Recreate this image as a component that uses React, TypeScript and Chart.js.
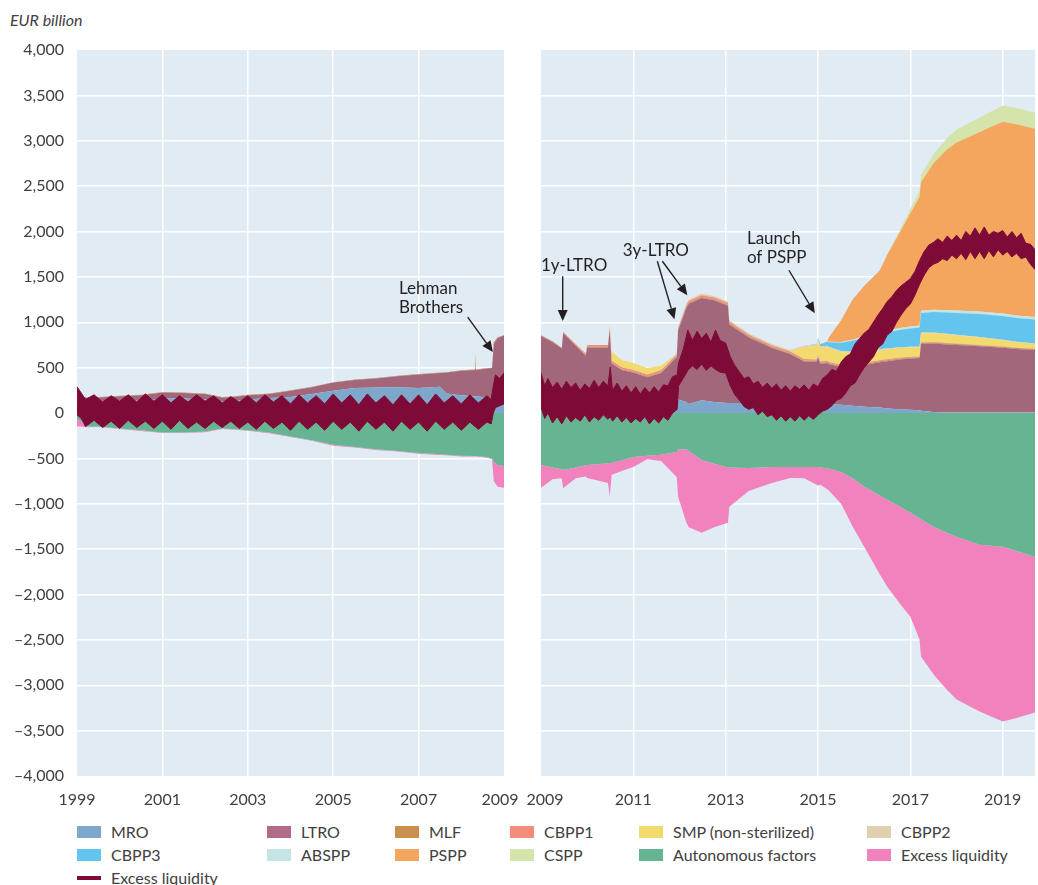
import React, { useEffect, useRef } from 'react';
import { Chart, registerables } from 'chart.js';

Chart.register(...registerables);

const FONT = 'Lato, "Open Sans", "DejaVu Sans", sans-serif';

// ---------------- Left panel (1999-2009) ----------------
const T_L = [1999.0, 1999.1, 1999.25, 1999.5, 2000.0, 2000.5, 2001.0, 2001.5, 2002.0, 2002.4, 2002.7, 2003.0, 2003.5, 2004.0, 2004.5, 2005.0, 2005.5, 2006.0, 2006.5, 2007.0, 2007.5, 2007.65, 2008.0, 2008.3, 2008.32, 2008.34, 2008.6, 2008.72, 2008.76, 2008.85, 2009.0];
const MRO_L = [150, 130, 120, 125, 135, 135, 166, 160, 150, 125, 135, 150, 165, 175, 210, 245, 275, 280, 285, 275, 290, 215, 195, 185, 185, 185, 170, 165, 310, 226, 233];
const LTRO_L = [45, 45, 45, 45, 50, 60, 60, 60, 60, 45, 45, 45, 45, 70, 75, 90, 90, 100, 120, 150, 150, 230, 270, 290, 290, 290, 320, 330, 450, 600, 620];
const MLF_L = [5, 5, 5, 5, 5, 5, 5, 5, 5, 5, 5, 5, 5, 5, 5, 5, 5, 5, 5, 5, 5, 5, 5, 5, 185, 5, 5, 5, 20, 10, 5];
const AUTO_L = [-70, -90, -150, -150, -170, -190, -215, -215, -205, -170, -180, -190, -215, -260, -300, -350, -375, -400, -420, -440, -455, -460, -470, -475, -475, -475, -485, -500, -540, -572, -583];
const EXCESS_L = [-80, -60, -8, -5, -5, -8, -5, -5, -8, -5, -5, -5, -8, -5, -5, -10, -5, -8, -5, -10, -8, -5, -10, -5, -5, -5, -8, -10, -210, -242, -242];

const EL_L_T = [1999.0, 1999.1, 1999.2, 1999.4, 1999.6, 1999.8, 2000.0, 2000.2, 2000.4, 2000.6, 2000.8, 2001.0, 2001.2, 2001.4, 2001.6, 2001.8, 2002.0, 2002.2, 2002.4, 2002.6, 2002.8, 2003.0, 2003.2, 2003.4, 2003.6, 2003.8, 2004.0, 2004.2, 2004.4, 2004.6, 2004.8, 2005.0, 2005.2, 2005.4, 2005.6, 2005.8, 2006.0, 2006.2, 2006.4, 2006.6, 2006.8, 2007.0, 2007.2, 2007.4, 2007.6, 2007.8, 2008.0, 2008.2, 2008.4, 2008.6, 2008.7, 2008.75, 2008.8, 2008.9, 2009.0];
const EL_L_HI = [290, 220, 150, 200, 120, 190, 130, 200, 120, 210, 130, 200, 110, 190, 120, 200, 130, 190, 110, 180, 120, 190, 110, 200, 120, 190, 100, 200, 110, 190, 100, 210, 110, 200, 90, 210, 110, 190, 90, 200, 100, 200, 90, 210, 110, 190, 100, 200, 110, 190, 150, 300, 420, 380, 440];
const EL_L_LO = [-20, -60, -150, -80, -160, -90, -170, -80, -160, -90, -170, -90, -180, -80, -170, -100, -170, -90, -160, -90, -170, -100, -180, -90, -170, -100, -190, -90, -180, -100, -190, -90, -180, -100, -200, -90, -180, -100, -200, -90, -180, -100, -200, -90, -180, -100, -190, -100, -180, -100, -120, 0, 60, 80, 100];

// ---------------- Right panel (2009-2019) ----------------
const T_R = [2009.0, 2009.25, 2009.45, 2009.48, 2009.75, 2009.97, 2010.0, 2010.45, 2010.49, 2010.53, 2010.75, 2011.0, 2011.3, 2011.6, 2011.94, 2011.97, 2012.15, 2012.2, 2012.48, 2012.75, 2013.05, 2013.08, 2013.5, 2014.0, 2014.4, 2014.7, 2014.97, 2015.0, 2015.05, 2015.2, 2015.23, 2015.5, 2015.75, 2016.0, 2016.34, 2016.5, 2016.77, 2017.0, 2017.2, 2017.23, 2017.5, 2017.79, 2018.0, 2018.5, 2019.0, 2019.3, 2019.7];
const MRO_R = [220, 230, 200, 100, 80, 80, 80, 100, 110, 180, 170, 190, 130, 170, 250, 150, 120, 100, 140, 120, 110, 110, 110, 110, 110, 110, 110, 110, 110, 100, 100, 90, 80, 70, 60, 50, 40, 35, 30, 25, 10, 5, 5, 5, 5, 5, 5];
const LTRO_R = [628, 550, 510, 781, 660, 551, 643, 618, 806, 365, 303, 255, 265, 270, 366, 758, 1041, 1105, 1128, 1122, 1072, 865, 724, 606, 539, 458, 455, 508, 432, 450, 440, 416, 430, 460, 500, 520, 550, 565, 575, 735, 755, 750, 745, 730, 715, 700, 690];
const MLF_R = [10, 10, 10, 10, 10, 10, 10, 10, 10, 10, 10, 10, 10, 10, 10, 10, 10, 10, 10, 10, 10, 10, 10, 10, 10, 10, 10, 10, 10, 10, 10, 10, 10, 10, 10, 10, 10, 10, 10, 10, 10, 10, 10, 10, 10, 10, 10];
const CBPP1_R = [0, 0, 0, 3, 10, 15, 15, 20, 20, 20, 20, 20, 20, 20, 20, 20, 20, 20, 20, 20, 20, 20, 19, 18, 18, 17, 15, 15, 15, 15, 15, 14, 13, 12, 12, 11, 10, 9, 8, 8, 7, 6, 5, 4, 3, 3, 2];
const SMP_R = [0, 0, 0, 0, 0, 0, 0, 0, 40, 100, 80, 75, 70, 50, 0, 0, 0, 0, 0, 0, 0, 0, 0, 0, 0, 130, 150, 150, 150, 150, 150, 140, 130, 120, 110, 108, 105, 102, 100, 100, 97, 93, 90, 82, 70, 62, 55];
const CBPP2_R = [0, 0, 0, 0, 0, 0, 0, 0, 0, 0, 0, 0, 0, 0, 10, 12, 15, 15, 18, 18, 18, 18, 17, 16, 16, 15, 15, 15, 15, 15, 15, 14, 13, 12, 12, 11, 10, 10, 9, 9, 8, 8, 7, 6, 5, 5, 4];
const CBPP3_R = [0, 0, 0, 0, 0, 0, 0, 0, 0, 0, 0, 0, 0, 0, 0, 0, 0, 0, 0, 0, 0, 0, 0, 0, 0, 0, 5, 20, 25, 45, 50, 90, 120, 145, 175, 180, 190, 200, 210, 215, 225, 235, 240, 255, 262, 263, 265];
const ABSPP_R = [0, 0, 0, 0, 0, 0, 0, 0, 0, 0, 0, 0, 0, 0, 0, 0, 0, 0, 0, 0, 0, 0, 0, 0, 0, 0, 0, 2, 3, 5, 5, 8, 12, 16, 18, 20, 21, 22, 23, 24, 25, 26, 27, 27, 27, 27, 27];
const PSPP_R = [0, 0, 0, 0, 0, 0, 0, 0, 0, 0, 0, 0, 0, 0, 0, 0, 0, 0, 0, 0, 0, 0, 0, 0, 0, 0, 0, 0, 0, 0, 45, 241, 442, 555, 676, 835, 1052, 1247, 1418, 1418, 1613, 1767, 1851, 1977, 2113, 2107, 2075];
const CSPP_R = [0, 0, 0, 0, 0, 0, 0, 0, 0, 0, 0, 0, 0, 0, 0, 0, 0, 0, 0, 0, 0, 0, 0, 0, 0, 0, 0, 0, 0, 0, 0, 0, 0, 0, 0, 5, 25, 50, 70, 75, 100, 125, 140, 160, 178, 178, 178];
const AUTO_R = [-572, -600, -620, -627, -600, -575, -572, -555, -552, -550, -520, -484, -470, -460, -430, -400, -400, -420, -517, -560, -600, -600, -605, -594, -594, -594, -594, -594, -600, -610, -612, -649, -720, -814, -910, -957, -1030, -1100, -1160, -1170, -1254, -1320, -1364, -1452, -1474, -1520, -1584];
const EXCESS_R = [-253, -130, -100, -203, -120, -125, -143, -215, -372, -130, -120, -110, -40, -70, -274, -524, -810, -840, -803, -700, -610, -434, -255, -176, -121, -126, -198, -206, -190, -230, -238, -351, -530, -660, -870, -957, -1070, -1144, -1337, -1514, -1626, -1730, -1793, -1837, -1925, -1840, -1716];

const EL_R_T = [2009.0, 2009.08, 2009.15, 2009.25, 2009.35, 2009.45, 2009.55, 2009.65, 2009.75, 2009.85, 2009.95, 2010.05, 2010.15, 2010.25, 2010.35, 2010.45, 2010.5, 2010.55, 2010.65, 2010.75, 2010.85, 2010.95, 2011.05, 2011.15, 2011.25, 2011.35, 2011.45, 2011.55, 2011.65, 2011.75, 2011.85, 2011.95, 2011.98, 2012.08, 2012.18, 2012.28, 2012.38, 2012.48, 2012.58, 2012.68, 2012.78, 2012.88, 2013.0, 2013.1, 2013.2, 2013.3, 2013.4, 2013.5, 2013.6, 2013.7, 2013.8, 2013.9, 2014.0, 2014.1, 2014.2, 2014.3, 2014.4, 2014.5, 2014.6, 2014.7, 2014.8, 2014.9, 2015.0, 2015.1, 2015.2, 2015.3, 2015.4, 2015.5, 2015.6, 2015.7, 2015.8, 2015.9, 2016.0, 2016.1, 2016.2, 2016.3, 2016.4, 2016.5, 2016.6, 2016.7, 2016.8, 2016.9, 2017.0, 2017.1, 2017.2, 2017.3, 2017.4, 2017.5, 2017.6, 2017.7, 2017.8, 2017.9, 2018.0, 2018.1, 2018.2, 2018.3, 2018.4, 2018.5, 2018.6, 2018.7, 2018.8, 2018.9, 2019.0, 2019.1, 2019.2, 2019.3, 2019.4, 2019.5, 2019.6, 2019.7];
const EL_R_HI = [440, 300, 380, 280, 340, 260, 350, 280, 330, 250, 320, 270, 360, 280, 350, 300, 506, 250, 330, 240, 300, 220, 290, 210, 280, 220, 290, 230, 310, 300, 400, 420, 550, 700, 913, 800, 900, 820, 880, 780, 913, 800, 770, 620, 520, 450, 380, 400, 320, 350, 280, 330, 270, 320, 250, 300, 240, 300, 260, 310, 250, 320, 290, 380, 420, 480, 460, 560, 620, 650, 760, 820, 880, 920, 1000, 1080, 1150, 1230, 1280, 1350, 1400, 1440, 1480, 1560, 1680, 1780, 1850, 1880, 1920, 1880, 1950, 1900, 1960, 1900, 2000, 1950, 2040, 1960, 2050, 1960, 2000, 1980, 2010, 1940, 2000, 1930, 1980, 1870, 1860, 1800];
const EL_R_LO = [60, -60, 0, -110, -40, -120, -30, -100, -50, -90, -20, -100, -40, -80, -20, -70, -40, -90, -30, -100, -50, -110, -60, -100, -40, -120, -60, -110, -40, -80, 0, 40, 300, 380, 470, 520, 480, 540, 470, 520, 480, 450, 440, 300, 200, 140, 70, 40, 60, -20, 20, -40, -20, -80, -30, -90, -40, -90, -30, -80, -30, -70, -20, 20, 40, 80, 140, 160, 220, 300, 330, 420, 500, 560, 620, 720, 760, 860, 900, 1000, 1080, 1150, 1200, 1300, 1420, 1520, 1600, 1640, 1660, 1700, 1680, 1740, 1700, 1760, 1690, 1780, 1700, 1780, 1700, 1790, 1720, 1800, 1740, 1780, 1720, 1760, 1700, 1720, 1640, 1580];

// ---------------- axis ticks & labels ----------------
const Y_MIN = -4000;
const Y_MAX = 4000;
const Y_STEP = 500;
const X_TICKS_L = [1999, 2001, 2003, 2005, 2007, 2009];
const X_TICKS_R = [2009, 2011, 2013, 2015, 2017, 2019];
const X_RANGE_L = [1999, 2009];
const X_RANGE_R = [2009, 2019.7];

type Ann = { lines: string[]; x: number; y: number };
type Arrow = { from: [number, number]; to: [number, number] };

const ANN_L: Ann[] = [{ lines: ['Lehman', 'Brothers'], x: 2006.54, y: 1375 }];
const ARROWS_L: Arrow[] = [{ from: [2008.15, 1056], to: [2008.74, 671] }];
const ANN_R: Ann[] = [
  { lines: ['1y-LTRO'], x: 2009.0, y: 1628 },
  { lines: ['3y-LTRO'], x: 2010.77, y: 1793 },
  { lines: ['Launch', 'of PSPP'], x: 2013.46, y: 1925 },
];
const ARROWS_R: Arrow[] = [
  { from: [2009.47, 1507], to: [2009.47, 1015] },
  { from: [2011.52, 1672], to: [2011.89, 1034] },
  { from: [2011.63, 1672], to: [2012.17, 1298] },
  { from: [2014.37, 1573], to: [2014.93, 1100] },
];

const C = {
  mro: '#7ea8cb',
  ltro: '#a3677b',
  ltroLegend: '#b46a89',
  mlf: '#c98f4e',
  cbpp1: '#f38c79',
  smp: '#f2da6c',
  cbpp2: '#e1d0ad',
  cbpp3: '#63c4ed',
  abspp: '#c5e4e4',
  pspp: '#f4a65e',
  cspp: '#d5e4ab',
  auto: '#66b491',
  excess: '#f282bd',
  line: '#7d0a37',
  bg: '#e1ebf4',
  text: '#404040',
};

const LEGEND_ROWS: { label: string; color: string; line?: boolean }[][] = [
  [
    { label: 'MRO', color: C.mro },
    { label: 'LTRO', color: C.ltroLegend },
    { label: 'MLF', color: C.mlf },
    { label: 'CBPP1', color: C.cbpp1 },
    { label: 'SMP (non-sterilized)', color: C.smp },
    { label: 'CBPP2', color: C.cbpp2 },
  ],
  [
    { label: 'CBPP3', color: C.cbpp3 },
    { label: 'ABSPP', color: C.abspp },
    { label: 'PSPP', color: C.pspp },
    { label: 'CSPP', color: C.cspp },
    { label: 'Autonomous factors', color: C.auto },
    { label: 'Excess liquidity', color: C.excess },
  ],
  [{ label: 'Excess liquidity', color: C.line, line: true }],
];
const LEGEND_COL_X = [77, 267, 395, 510, 639, 867];
const LEGEND_ROW_Y = [832, 855, 878];

const pts = (t: number[], v: number[]) => t.map((x, i) => ({ x, y: v[i] }));

const area = (label: string, t: number[], v: number[], color: string, fill: any) => ({
  label,
  data: pts(t, v),
  backgroundColor: color,
  borderColor: color,
  borderWidth: 0,
  pointRadius: 0,
  fill,
  order: 1,
});

const band = (t: number[], hi: number[], lo: number[]) => [
  { label: 'Excess liquidity (hi)', data: pts(t, hi), borderColor: C.line, backgroundColor: C.line, borderWidth: 1, pointRadius: 0, fill: false, stack: 'elHi', order: -1 },
  { label: 'Excess liquidity (lo)', data: pts(t, lo), borderColor: C.line, backgroundColor: C.line, borderWidth: 1, pointRadius: 0, fill: '-1', stack: 'elLo', order: -1 },
];

const fmtY = (v: number) => (v < 0 ? '\u2013' : '') + Math.abs(v).toLocaleString('en-US');

const bgPlugin = {
  id: 'bgArea',
  beforeDraw(chart: any) {
    const { ctx, chartArea: a } = chart;
    ctx.save();
    ctx.fillStyle = C.bg;
    ctx.fillRect(a.left, a.top, a.right - a.left, a.bottom - a.top);
    ctx.restore();
  },
};

const annPlugin = (anns: Ann[], arrows: Arrow[]) => ({
  id: 'annotations',
  afterDatasetsDraw(chart: any) {
    const { ctx } = chart;
    const xs = chart.scales.x;
    const ys = chart.scales.y;
    ctx.save();
    ctx.fillStyle = '#231f20';
    ctx.strokeStyle = '#231f20';
    ctx.font = `17px ${FONT}`;
    ctx.textBaseline = 'middle';
    ctx.textAlign = 'left';
    anns.forEach((a) =>
      a.lines.forEach((l, i) => ctx.fillText(l, xs.getPixelForValue(a.x), ys.getPixelForValue(a.y) + i * 19))
    );
    arrows.forEach((ar) => {
      const x1 = xs.getPixelForValue(ar.from[0]);
      const y1 = ys.getPixelForValue(ar.from[1]);
      const x2 = xs.getPixelForValue(ar.to[0]);
      const y2 = ys.getPixelForValue(ar.to[1]);
      const ang = Math.atan2(y2 - y1, x2 - x1);
      const hl = 11;
      const hw = 5;
      const bx = x2 - hl * Math.cos(ang);
      const by = y2 - hl * Math.sin(ang);
      ctx.lineWidth = 1.4;
      ctx.beginPath();
      ctx.moveTo(x1, y1);
      ctx.lineTo(bx, by);
      ctx.stroke();
      ctx.beginPath();
      ctx.moveTo(x2, y2);
      ctx.lineTo(bx + hw * Math.sin(ang), by - hw * Math.cos(ang));
      ctx.lineTo(bx - hw * Math.sin(ang), by + hw * Math.cos(ang));
      ctx.closePath();
      ctx.fill();
    });
    ctx.restore();
  },
});

const NUDGE = '\u2002'; // en space, nudges edge year labels away from the panel gap

function makeConfig(p: {
  datasets: any[];
  range: number[];
  xTicks: number[];
  showY: boolean;
  yWidth: number;
  padLeft: number;
  padRight: number;
  nudgeFirst: boolean;
  nudgeLast: boolean;
  anns: Ann[];
  arrows: Arrow[];
}) {
  const [xMin, xMax] = p.range;
  return {
    type: 'line' as const,
    data: { datasets: p.datasets },
    options: {
      animation: false as const,
      responsive: false,
      events: [],
      layout: { padding: { left: p.padLeft, right: p.padRight, top: 50, bottom: 8 } },
      plugins: { legend: { display: false }, tooltip: { enabled: false } },
      elements: { line: { tension: 0 }, point: { radius: 0 } },
      scales: {
        x: {
          type: 'linear' as const,
          min: xMin,
          max: xMax,
          afterBuildTicks: (s: any) => {
            s.ticks = p.xTicks.map((v) => ({ value: v }));
          },
          afterFit: (s: any) => {
            s.height = 36;
          },
          border: { display: false },
          grid: {
            drawTicks: false,
            lineWidth: 1.5,
            color: (ctx: any) =>
              ctx.tick && (ctx.tick.value === xMin || ctx.tick.value === xMax) ? 'rgba(0,0,0,0)' : '#ffffff',
          },
          ticks: {
            padding: 14,
            color: C.text,
            font: { family: FONT, size: 16 },
            maxRotation: 0,
            autoSkip: false,
            callback: (v: any, i: number, arr: any[]) => {
              const s = String(v);
              if (p.nudgeFirst && i === 0) return NUDGE + s;
              if (p.nudgeLast && i === arr.length - 1) return s + NUDGE;
              return s;
            },
          },
        },
        y: {
          stacked: true,
          min: Y_MIN,
          max: Y_MAX,
          afterFit: (s: any) => {
            s.width = p.yWidth;
          },
          border: { display: false },
          grid: {
            drawTicks: false,
            lineWidth: 1.5,
            color: (ctx: any) =>
              ctx.tick && (ctx.tick.value === Y_MIN || ctx.tick.value === Y_MAX) ? 'rgba(0,0,0,0)' : '#ffffff',
          },
          ticks: {
            display: p.showY,
            stepSize: Y_STEP,
            padding: 13,
            color: C.text,
            font: { family: FONT, size: 16 },
            callback: (v: any) => fmtY(Number(v)),
          },
        },
      },
    },
    plugins: [bgPlugin, annPlugin(p.anns, p.arrows)],
  };
}

// canvas geometry (page pixels)
const L_CANVAS = { left: 0, width: 544, padRight: 40 };
const R_CANVAS = { left: 501, width: 537, padLeft: 40, padRight: 3 };

export default function App() {
  const leftRef = useRef<HTMLCanvasElement>(null);
  const rightRef = useRef<HTMLCanvasElement>(null);

  useEffect(() => {
    const leftDs = [
      area('MRO', T_L, MRO_L, C.mro, 'origin'),
      area('LTRO', T_L, LTRO_L, C.ltro, '-1'),
      area('MLF', T_L, MLF_L, C.mlf, '-1'),
      area('Autonomous factors', T_L, AUTO_L, C.auto, 'origin'),
      area('Excess liquidity', T_L, EXCESS_L, C.excess, '-1'),
      ...band(EL_L_T, EL_L_HI, EL_L_LO),
    ];
    const rightDs = [
      area('MRO', T_R, MRO_R, C.mro, 'origin'),
      area('LTRO', T_R, LTRO_R, C.ltro, '-1'),
      area('MLF', T_R, MLF_R, C.mlf, '-1'),
      area('CBPP1', T_R, CBPP1_R, C.cbpp1, '-1'),
      area('SMP (non-sterilized)', T_R, SMP_R, C.smp, '-1'),
      area('CBPP2', T_R, CBPP2_R, C.cbpp2, '-1'),
      area('CBPP3', T_R, CBPP3_R, C.cbpp3, '-1'),
      area('ABSPP', T_R, ABSPP_R, C.abspp, '-1'),
      area('PSPP', T_R, PSPP_R, C.pspp, '-1'),
      area('CSPP', T_R, CSPP_R, C.cspp, '-1'),
      area('Autonomous factors', T_R, AUTO_R, C.auto, 'origin'),
      area('Excess liquidity', T_R, EXCESS_R, C.excess, '-1'),
      ...band(EL_R_T, EL_R_HI, EL_R_LO),
    ];
    const left = new Chart(
      leftRef.current as HTMLCanvasElement,
      makeConfig({ datasets: leftDs, range: X_RANGE_L, xTicks: X_TICKS_L, showY: true, yWidth: 77, padLeft: 0, padRight: L_CANVAS.padRight, nudgeFirst: false, nudgeLast: true, anns: ANN_L, arrows: ARROWS_L }) as any
    );
    const right = new Chart(
      rightRef.current as HTMLCanvasElement,
      makeConfig({ datasets: rightDs, range: X_RANGE_R, xTicks: X_TICKS_R, showY: false, yWidth: 0, padLeft: R_CANVAS.padLeft, padRight: R_CANVAS.padRight, nudgeFirst: true, nudgeLast: false, anns: ANN_R, arrows: ARROWS_R }) as any
    );
    return () => {
      left.destroy();
      right.destroy();
    };
  }, []);

  return (
    <div style={{ position: 'absolute', left: 0, top: 0, width: 1038, height: 885, background: '#ffffff', fontFamily: FONT, color: C.text, overflow: 'hidden' }}>
      <div style={{ position: 'absolute', left: 10, top: 10, fontSize: 16, fontStyle: 'italic', color: C.text, lineHeight: '20px' }}>
        EUR billion
      </div>
      <canvas ref={leftRef} width={L_CANVAS.width} height={820} style={{ position: 'absolute', left: L_CANVAS.left, top: 0, width: L_CANVAS.width, height: 820 }} />
      <canvas ref={rightRef} width={R_CANVAS.width} height={820} style={{ position: 'absolute', left: R_CANVAS.left, top: 0, width: R_CANVAS.width, height: 820 }} />
      {LEGEND_ROWS.map((row, ri) =>
        row.map((item, ci) => (
          <div
            key={`${ri}-${ci}`}
            style={{ position: 'absolute', left: LEGEND_COL_X[ci], top: LEGEND_ROW_Y[ri] - 10, height: 20, display: 'flex', alignItems: 'center', whiteSpace: 'nowrap' }}
          >
            <span style={{ display: 'inline-block', width: 24, height: item.line ? 4 : 12, background: item.color, marginRight: 10 }} />
            <span style={{ fontSize: 16, color: C.text, lineHeight: '20px' }}>{item.label}</span>
          </div>
        ))
      )}
    </div>
  );
}
